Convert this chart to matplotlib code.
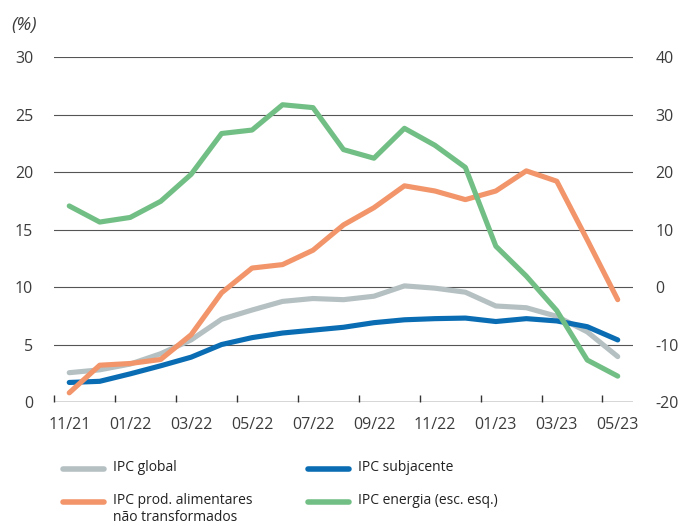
import matplotlib.pyplot as plt
from matplotlib.lines import Line2D

plt.rcParams['font.family'] = ['Open Sans', 'DejaVu Sans']
plt.rcParams['axes.unicode_minus'] = False

meses = ['11/21', '12/21', '01/22', '02/22', '03/22', '04/22', '05/22', '06/22', '07/22',
         '08/22', '09/22', '10/22', '11/22', '12/22', '01/23', '02/23', '03/23', '04/23', '05/23']

ipc_global = [2.55, 2.8, 3.3, 4.2, 5.4, 7.2, 8.0, 8.75, 9.0, 8.9,
              9.2, 10.1, 9.9, 9.55, 8.35, 8.2, 7.45, 6.1, 3.95]
ipc_subjacente = [1.7, 1.8, 2.45, 3.15, 3.9, 5.0, 5.6, 6.0, 6.25, 6.5,
                  6.9, 7.15, 7.25, 7.3, 7.0, 7.25, 7.05, 6.55, 5.4]
ipc_alimentares = [0.8, 3.2, 3.35, 3.7, 5.85, 9.5, 11.65, 11.95, 13.2, 15.4,
                   16.9, 18.8, 18.35, 17.6, 18.35, 20.1, 19.2, 14.1, 8.9]
# energia segue a escala da direita
ipc_energia = [14.1, 11.3, 12.1, 14.9, 19.6, 26.7, 27.3, 31.7, 31.2, 23.9,
               22.4, 27.6, 24.65, 20.8, 7.1, 1.9, -4.1, -12.7, -15.5]

c_global = '#b5c0c2'
c_sub = '#0a6db3'
c_alim = '#f2956a'
c_ener = '#72bf85'
c_txt = '#3c3c3c'

x = list(range(len(meses)))

fig = plt.figure(figsize=(6.88, 5.26), dpi=100)
ax = fig.add_axes([0.0785, 0.2357, 0.8415, 0.6559])
ax2 = ax.twinx()

lw = 3.7
l1, = ax.plot(x, ipc_global, color=c_global, lw=lw, solid_capstyle='round', zorder=3)
l2, = ax.plot(x, ipc_subjacente, color=c_sub, lw=lw, solid_capstyle='round', zorder=4)
l3, = ax.plot(x, ipc_alimentares, color=c_alim, lw=lw, solid_capstyle='round', zorder=5)
l4, = ax2.plot(x, ipc_energia, color=c_ener, lw=lw, solid_capstyle='round', zorder=5)

ax.set_xlim(-0.5, 18.5)
ax.set_ylim(0, 30)
ax2.set_ylim(-20, 40)
ax.set_yticks(range(0, 31, 5))
ax2.set_yticks(range(-20, 41, 10))

for v in range(5, 31, 5):
    ax.axhline(v, color='#555555', lw=0.8, zorder=1)

for a in (ax, ax2):
    for s in ('top', 'left', 'right', 'bottom'):
        a.spines[s].set_visible(False)
ax.axhline(0, color='#333333', lw=1.0, zorder=2)

# marcas entre meses, rótulos no centro do mês
ax.set_xticks(x[::2])
ax.set_xticklabels(meses[::2])
ax.set_xticks([i - 0.5 for i in range(0, 19, 2)], minor=True)
ax.tick_params(axis='x', which='major', length=0, pad=11, labelsize=11.5, colors=c_txt)
ax.tick_params(axis='x', which='minor', direction='in', length=5, width=1, color='#333333')
ax.tick_params(axis='y', length=0, pad=15, labelsize=11.5, colors=c_txt)
ax2.tick_params(axis='y', length=0, pad=16, labelsize=11.5, colors=c_txt)

fig.text(0.017, 0.953, '(%)', fontsize=13.5, style='italic', color=c_txt, va='center')

# legenda
leg = [(l1, 'IPC global', 0.0916, 0.108),
       (l3, 'IPC prod. alimentares\nnão transformados', 0.0916, 0.046),
       (l2, 'IPC subjacente', 0.448, 0.108),
       (l4, 'IPC energia (esc. esq.)', 0.448, 0.046)]
for linha, txt, lx, ly in leg:
    fig.add_artist(Line2D([lx, lx + 0.0596], [ly, ly], color=linha.get_color(),
                          lw=4, solid_capstyle='round', transform=fig.transFigure))
    fig.text(lx + 0.073, ly + 0.017, txt, fontsize=10, color='#222222', va='top',
             linespacing=1.15)

fig.savefig('out.png', dpi=100)
